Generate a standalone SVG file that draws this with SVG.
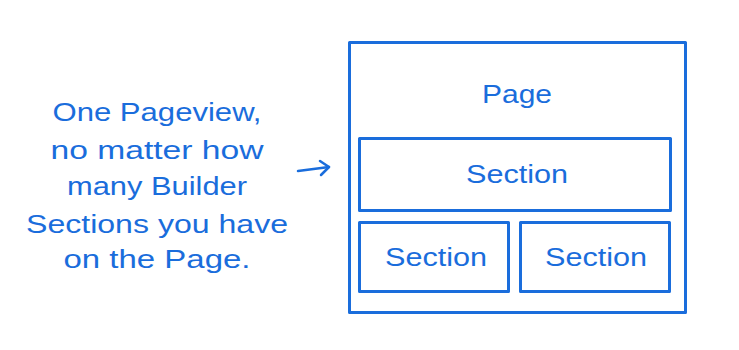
<svg xmlns="http://www.w3.org/2000/svg" width="739" height="350" viewBox="0 0 739 350">
<style>
.box{fill:none;stroke:#1a6ddc;stroke-width:3;stroke-linejoin:round}
.t{font-family:"Liberation Sans","DejaVu Sans",sans-serif;fill:#1a6ddc;text-anchor:middle}
.l{font-size:26px}
.s{font-size:25px}
.c{fill:none;stroke:#1a6ddc;stroke-width:2.5;stroke-linecap:round;stroke-linejoin:round}
</style>
<rect width="739" height="350" fill="#ffffff"/>
<g id="note">
<text class="t l" x="157" y="121" textLength="209" lengthAdjust="spacingAndGlyphs">One Pageview,</text>
<text class="t l" x="157" y="159" textLength="213" lengthAdjust="spacingAndGlyphs">no matter how</text>
<text class="t l" x="157" y="195" textLength="180" lengthAdjust="spacingAndGlyphs">many Builder</text>
<text class="t l" x="157" y="233" textLength="262" lengthAdjust="spacingAndGlyphs">Sections you have</text>
<text class="t l" x="157" y="268" textLength="187" lengthAdjust="spacingAndGlyphs">on the Page.</text>
</g>
<g id="connectors">
<path class="c" d="M298 171 L329 167"/>
<path class="c" d="M320 161 L329 167 L321 175"/>
</g>
<g id="page">
<rect class="box" x="349.5" y="42.5" width="336" height="270"/>
<text class="t s" x="517" y="103" textLength="70" lengthAdjust="spacingAndGlyphs">Page</text>
</g>
<g id="section-top">
<rect class="box" x="359.5" y="138.5" width="311" height="72"/>
<text class="t s" x="517" y="183" textLength="102" lengthAdjust="spacingAndGlyphs">Section</text>
</g>
<g id="section-left">
<rect class="box" x="359.5" y="222.5" width="149" height="69"/>
<text class="t s" x="436" y="266" textLength="102" lengthAdjust="spacingAndGlyphs">Section</text>
</g>
<g id="section-right">
<rect class="box" x="520.5" y="222.5" width="149" height="69"/>
<text class="t s" x="596" y="266" textLength="102" lengthAdjust="spacingAndGlyphs">Section</text>
</g>
</svg>
